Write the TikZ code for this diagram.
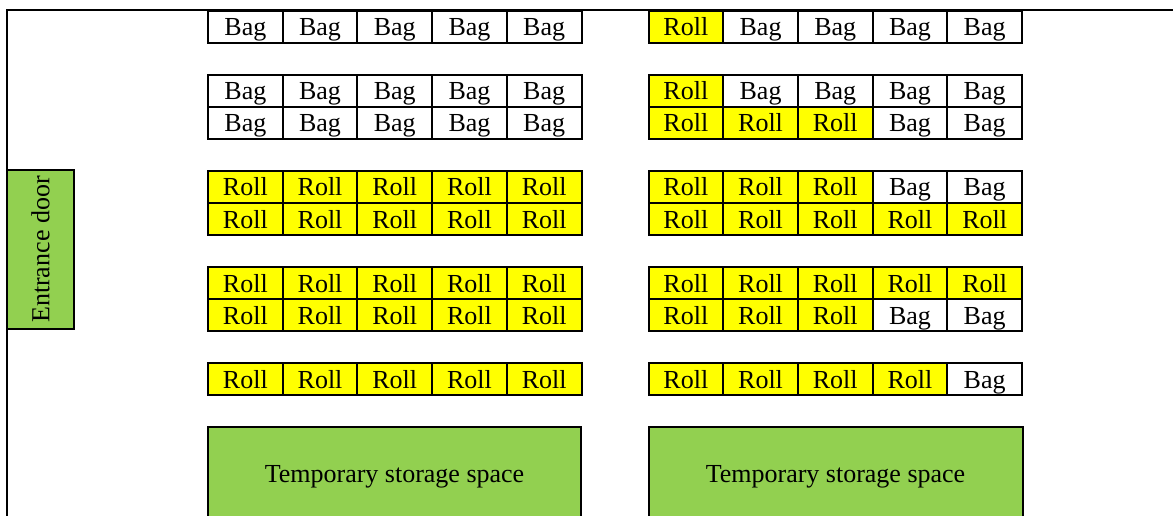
\documentclass[tikz,border=0pt]{standalone}
\usepackage{fontspec}
\setmainfont{Liberation Serif}
\definecolor{rollfill}{HTML}{FFFF00}
\definecolor{areafill}{HTML}{92D050}
\begin{document}
\begin{tikzpicture}[x=1pt,y=-1pt,
  wall/.style={line width=2pt},
  cell/.style={draw, line width=2pt, minimum width=74.7pt, minimum height=32pt,
    inner sep=0pt, text height=25pt, text depth=7pt, anchor=north west,
    font=\fontsize{26}{30}\selectfont},
  Bag/.style={cell, fill=white},
  Roll/.style={cell, fill=rollfill},
  area/.style={draw, line width=2pt, fill=areafill, inner sep=0pt,
    font=\fontsize{26}{30}\selectfont}]
\clip (0,0) rectangle (1173,516);

% walls of the room
\draw[wall] (1180,10) -| (7,530);

% entrance door on the left wall
\node[area, rotate=90, minimum width=159pt, minimum height=67pt] (door)
  at (40.5,249.5) {Entrance door};

% storage rows: left block and right block
\foreach \r/\y/\L/\R in {
  1/10/{Bag,Bag,Bag,Bag,Bag}/{Roll,Bag,Bag,Bag,Bag},
  2/74/{Bag,Bag,Bag,Bag,Bag}/{Roll,Bag,Bag,Bag,Bag},
  3/106/{Bag,Bag,Bag,Bag,Bag}/{Roll,Roll,Roll,Bag,Bag},
  4/170/{Roll,Roll,Roll,Roll,Roll}/{Roll,Roll,Roll,Bag,Bag},
  5/202/{Roll,Roll,Roll,Roll,Roll}/{Roll,Roll,Roll,Roll,Roll},
  6/266/{Roll,Roll,Roll,Roll,Roll}/{Roll,Roll,Roll,Roll,Roll},
  7/298/{Roll,Roll,Roll,Roll,Roll}/{Roll,Roll,Roll,Bag,Bag},
  8/362/{Roll,Roll,Roll,Roll,Roll}/{Roll,Roll,Roll,Roll,Bag}}{
  \foreach \t [count=\c] in \L
    \node[\t] (L-\r-\c) at ({207+(\c-1)*74.7},\y) {\t};
  \foreach \t [count=\c] in \R
    \node[\t] (R-\r-\c) at ({647.5+(\c-1)*74.7},\y) {\t};
}

% temporary storage areas (running off the bottom edge)
\node[area, anchor=north west, minimum width=373pt, minimum height=99pt]
  (storeL) at (207,426) {Temporary storage space};
\node[area, anchor=north west, minimum width=374pt, minimum height=99pt]
  (storeR) at (647.5,426) {Temporary storage space};
\end{tikzpicture}
\end{document}
